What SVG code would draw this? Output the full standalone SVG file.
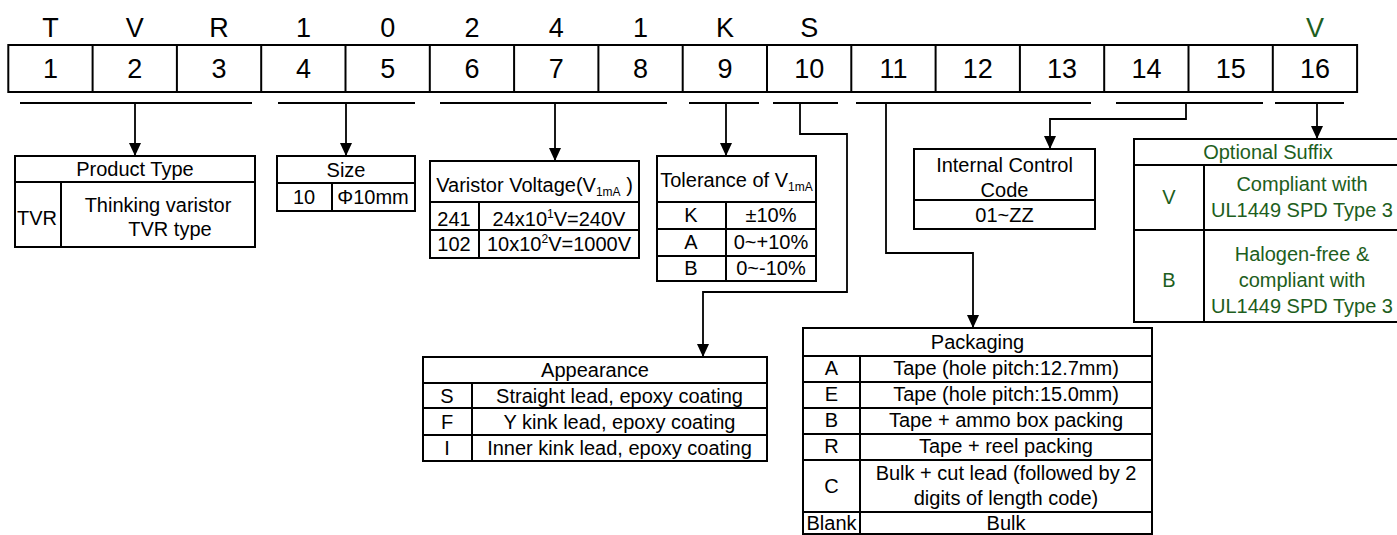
<svg xmlns="http://www.w3.org/2000/svg" width="1397" height="535" viewBox="0 0 1397 535">
<defs>
<marker id="ah" viewBox="0 0 13 12" refX="13" refY="6" markerWidth="13" markerHeight="12" markerUnits="userSpaceOnUse" orient="auto">
<path d="M0,0 L13,6 L0,12 Z" fill="#000"/>
</marker>
</defs>
<style>
text{font-family:"Liberation Sans",Arial,sans-serif;fill:#000}
.big{font-size:27px;text-anchor:middle}
.t{font-size:20px;text-anchor:middle}
.g{fill:#1d5e20}
.box{fill:#fff;stroke:#000;stroke-width:2}
.ln{stroke:#000;stroke-width:2;fill:none}
.ul{stroke:#000;stroke-width:2}
.con{stroke:#000;stroke-width:1.8;fill:none}
.sub{font-size:12px}
</style>
<rect width="1397" height="535" fill="#fff"/>

<g id="code-letters">
<text class="big" x="50.5" y="37">T</text>
<text class="big" x="134.8" y="37">V</text>
<text class="big" x="219.1" y="37">R</text>
<text class="big" x="303.4" y="37">1</text>
<text class="big" x="387.7" y="37">0</text>
<text class="big" x="472" y="37">2</text>
<text class="big" x="556.3" y="37">4</text>
<text class="big" x="640.6" y="37">1</text>
<text class="big" x="724.9" y="37">K</text>
<text class="big" x="809.2" y="37">S</text>
<text class="big g" x="1315" y="37">V</text>
</g>

<g id="position-row">
<rect class="box" x="8.3" y="45" width="1348.8" height="47"/>
<path class="ln" d="M92.6,45V92M176.9,45V92M261.2,45V92M345.5,45V92M429.8,45V92M514.1,45V92M598.4,45V92M682.7,45V92M767,45V92M851.3,45V92M935.6,45V92M1019.9,45V92M1104.2,45V92M1188.5,45V92M1272.8,45V92"/>
<text class="big" x="50.5" y="78">1</text>
<text class="big" x="134.8" y="78">2</text>
<text class="big" x="219.1" y="78">3</text>
<text class="big" x="303.4" y="78">4</text>
<text class="big" x="387.7" y="78">5</text>
<text class="big" x="472" y="78">6</text>
<text class="big" x="556.3" y="78">7</text>
<text class="big" x="640.6" y="78">8</text>
<text class="big" x="724.9" y="78">9</text>
<text class="big" x="809.2" y="78">10</text>
<text class="big" x="893.5" y="78">11</text>
<text class="big" x="977.8" y="78">12</text>
<text class="big" x="1062.1" y="78">13</text>
<text class="big" x="1146.4" y="78">14</text>
<text class="big" x="1230.7" y="78">15</text>
<text class="big" x="1315" y="78">16</text>
</g>

<g id="connectors">
<path class="ul" d="M20,103H252M278,103H415M440,103H667M689,103H759M773,103H838M856,103H1091M1116,103H1263M1275,103H1344"/>
<path class="con" marker-end="url(#ah)" d="M135,103V156"/>
<path class="con" marker-end="url(#ah)" d="M346,103V156"/>
<path class="con" marker-end="url(#ah)" d="M555,103V161"/>
<path class="con" marker-end="url(#ah)" d="M726,103V156"/>
<path class="con" marker-end="url(#ah)" d="M800,103V134H847V292H703V357"/>
<path class="con" marker-end="url(#ah)" d="M886,103V253H973V328"/>
<path class="con" marker-end="url(#ah)" d="M1186,103V119H1050V149"/>
<path class="con" marker-end="url(#ah)" d="M1317,103V139"/>
</g>

<g id="product-type">
<rect class="box" x="15" y="156" width="240" height="91"/>
<path class="ln" d="M15,182H255M61,182V247"/>
<text class="t" x="135" y="176">Product Type</text>
<text x="17" y="225" style="font-size:20px">TVR</text>
<text class="t" x="158" y="212">Thinking varistor</text>
<text class="t" x="170" y="236">TVR type</text>
</g>

<g id="size">
<rect class="box" x="277" y="156" width="138" height="55"/>
<path class="ln" d="M277,183H415M332,183V211"/>
<text class="t" x="346" y="177">Size</text>
<text class="t" x="304" y="204">10</text>
<text class="t" x="373" y="204">Φ10mm</text>
</g>

<g id="varistor-voltage">
<rect class="box" x="430" y="161" width="209" height="97"/>
<path class="ln" d="M430,202H639M430,230H639M479,202V258"/>
<text class="t" x="534.5" y="192">Varistor Voltage(V<tspan class="sub" dy="4">1mA</tspan><tspan dy="-4"> )</tspan></text>
<text class="t" x="454" y="226">241</text>
<text class="t" x="559" y="226">24x10<tspan class="sub" dy="-8">1</tspan><tspan dy="8">V=240V</tspan></text>
<text class="t" x="454" y="251">102</text>
<text class="t" x="559" y="251">10x10<tspan class="sub" dy="-8">2</tspan><tspan dy="8">V=1000V</tspan></text>
</g>

<g id="tolerance">
<rect class="box" x="657" y="156" width="159" height="125"/>
<path class="ln" d="M657,202H816M657,229H816M657,256H816M726,202V281"/>
<text class="t" x="736.5" y="187">Tolerance of V<tspan class="sub" dy="4">1mA</tspan></text>
<text class="t" x="691" y="222">K</text>
<text class="t" x="771" y="222">±10%</text>
<text class="t" x="691" y="249">A</text>
<text class="t" x="771" y="249">0~+10%</text>
<text class="t" x="691" y="275">B</text>
<text class="t" x="771" y="275">0~-10%</text>
</g>

<g id="internal-control-code">
<rect class="box" x="914" y="149" width="181" height="80"/>
<path class="ln" d="M914,200H1095"/>
<text class="t" x="1004.5" y="172">Internal Control</text>
<text class="t" x="1004.5" y="197">Code</text>
<text class="t" x="1004.5" y="222">01~ZZ</text>
</g>

<g id="optional-suffix">
<rect class="box" x="1134" y="139" width="270" height="183"/>
<path class="ln" d="M1134,165H1404M1134,230H1404M1204,165V322"/>
<text class="t g" x="1268" y="159">Optional Suffix</text>
<text class="t g" x="1169" y="204">V</text>
<text class="t g" x="1302" y="191">Compliant with</text>
<text class="t g" x="1302" y="217">UL1449 SPD Type 3</text>
<text class="t g" x="1169" y="287">B</text>
<text class="t g" x="1302" y="261">Halogen-free &amp;</text>
<text class="t g" x="1302" y="287">compliant with</text>
<text class="t g" x="1302" y="313">UL1449 SPD Type 3</text>
</g>

<g id="appearance">
<rect class="box" x="423" y="357" width="344" height="104"/>
<path class="ln" d="M423,383H767M423,408H767M423,435H767M472,383V461"/>
<text class="t" x="595" y="377">Appearance</text>
<text class="t" x="447" y="403">S</text>
<text class="t" x="619.5" y="403">Straight lead, epoxy coating</text>
<text class="t" x="447" y="429">F</text>
<text class="t" x="619.5" y="429">Y kink lead, epoxy coating</text>
<text class="t" x="447" y="455">I</text>
<text class="t" x="619.5" y="455">Inner kink lead, epoxy coating</text>
</g>

<g id="packaging">
<rect class="box" x="803" y="328" width="349" height="206"/>
<path class="ln" d="M803,356H1152M803,382H1152M803,408H1152M803,434H1152M803,460H1152M803,512H1152M860,356V534"/>
<text class="t" x="977.5" y="349">Packaging</text>
<text class="t" x="831.5" y="375">A</text>
<text class="t" x="1006" y="375">Tape (hole pitch:12.7mm)</text>
<text class="t" x="831.5" y="401">E</text>
<text class="t" x="1006" y="401">Tape (hole pitch:15.0mm)</text>
<text class="t" x="831.5" y="427">B</text>
<text class="t" x="1006" y="427">Tape + ammo box packing</text>
<text class="t" x="831.5" y="453">R</text>
<text class="t" x="1006" y="453">Tape + reel packing</text>
<text class="t" x="831.5" y="493">C</text>
<text class="t" x="1006" y="480">Bulk + cut lead (followed by 2</text>
<text class="t" x="1006" y="505">digits of length code)</text>
<text class="t" x="831.5" y="530">Blank</text>
<text class="t" x="1006" y="530">Bulk</text>
</g>
</svg>
